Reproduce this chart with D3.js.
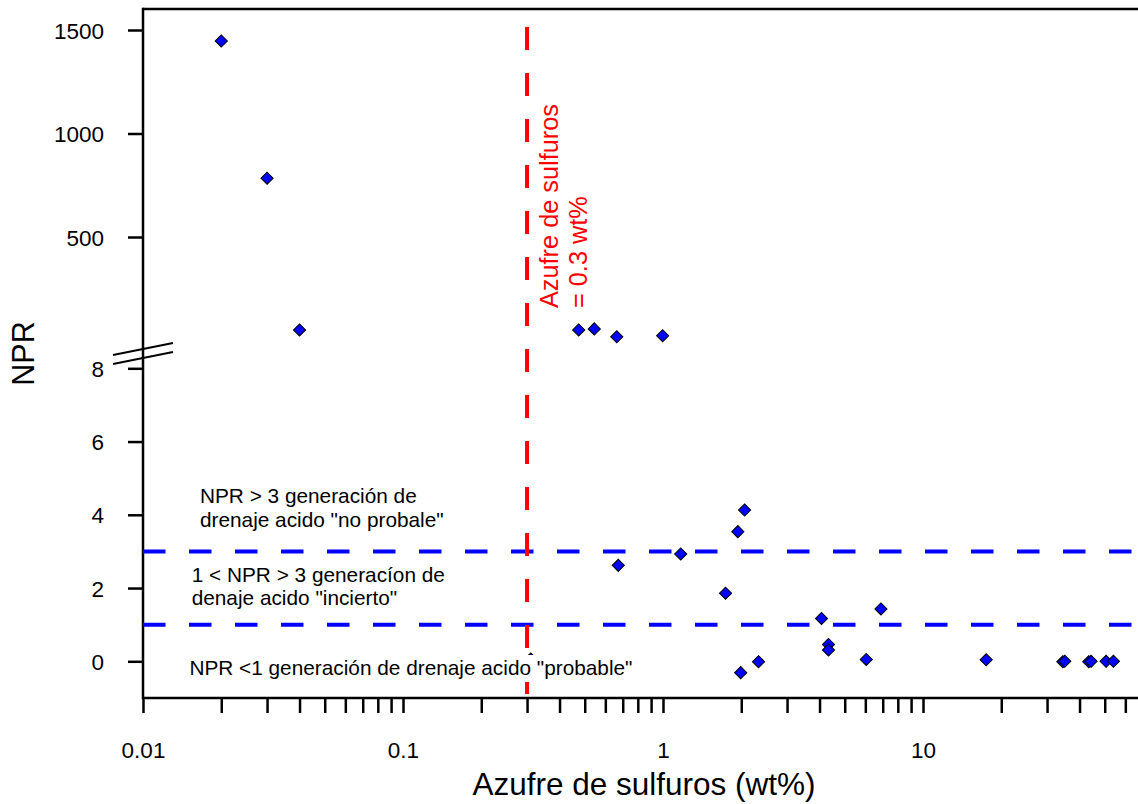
<!DOCTYPE html>
<html><head><meta charset="utf-8">
<script src="https://cdn.jsdelivr.net/npm/d3@7"></script>
<style>body{margin:0;background:#fff}svg{display:block}text{font-family:"Liberation Sans",Arial,sans-serif}</style>
</head><body><svg id="c" width="1138" height="804"></svg>
<script>
// Data
const sulfurLow = [0.31, 0.673, 1.17, 1.94, 2.06, 1.74, 1.99, 2.33, 4.07, 6.89, 4.33, 4.33, 6.05, 17.5, 34.5, 35.1, 43.4, 44.3, 50.6, 54.0];
const nprLow    = [0.06, 2.62, 2.93, 3.54, 4.13, 1.86, -0.31, -0.01, 1.17, 1.43, 0.46, 0.31, 0.05, 0.04, -0.01, 0.0, -0.01, 0.0, 0.0, 0.0];
const sulfurHigh = [0.02, 0.03, 0.04, 0.474, 0.544, 0.664, 0.997];
const nprHigh    = [1447, 784, 51, 51, 56, 18, 23];
const xTickLabels = [0.01, 0.1, 1, 10];
const lowTicks = [0, 2, 4, 6, 8];
const highTicks = [500, 1000, 1500];
const thresholdsNPR = [3, 1];
const thresholdSulfur = 0.3;
const notes = [
  {lines:["NPR > 3 generación de", "drenaje acido \"no probale\""], x:0.01656, y:4.32},
  {lines:["1 < NPR > 3 generacíon de", "denaje acido \"incierto\""], x:0.01539, y:2.17},
  {lines:["NPR <1 generación de drenaje acido \"probable\""], x:0.01508, y:-0.374}
];
const redLabel = ["Azufre de sulfuros", "= 0.3 wt%"];

const svg = d3.select("#c");
const L = 143, T = 9, B = 698;
const x = d3.scaleLog().domain([0.01, 1]).range([L, 663]);
const xMax = 70;
const yLow = d3.scaleLinear().domain([0, 8]).range([661.3, 368.3]);
const yHigh = d3.scaleLinear().domain([0, 1500]).range([340.5, 30]);
const W = x(xMax);

// frame top line
svg.append("line").attr("x1", L).attr("x2", W).attr("y1", T).attr("y2", T)
  .attr("stroke", "#000").attr("stroke-width", 2.5);

// x axis
const minor = [];
for (let e = -2; e <= 1; e++) for (let m = 1; m <= 9; m++) { const v = m * Math.pow(10, e); if (v <= xMax) minor.push(v); }
const xAxis = d3.axisBottom(x).tickValues(minor).tickSize(15).tickPadding(29)
  .tickFormat(d => xTickLabels.includes(+d.toPrecision(3)) ? String(+d.toPrecision(3)) : "");
const gx = svg.append("g").attr("transform", `translate(0,${B})`).call(xAxis);
gx.select(".domain").attr("d", `M${L},0H${W}`).attr("stroke-width", 2.5);
gx.selectAll(".tick line").attr("stroke-width", 2.5);
gx.selectAll(".tick text").attr("font-size", 22.5).attr("fill", "#000");

// y axis (broken)
const gyL = svg.append("g").attr("transform", `translate(${L},0)`)
  .call(d3.axisLeft(yLow).tickValues(lowTicks).tickSize(15).tickPadding(24).tickFormat(d3.format("d")));
gyL.select(".domain").remove();
const gyH = svg.append("g").attr("transform", `translate(${L},0)`)
  .call(d3.axisLeft(yHigh).tickValues(highTicks).tickSize(15).tickPadding(24).tickFormat(d3.format("d")));
gyH.select(".domain").remove();
svg.selectAll(".tick line").attr("stroke-width", 2.5);
[gyL, gyH].forEach(g => g.selectAll(".tick text").attr("font-size", 22.5).attr("fill", "#000").attr("dy", "0.36em"));
svg.append("line").attr("x1", L).attr("x2", L).attr("y1", T - 1.2).attr("y2", B + 1.2)
  .attr("stroke", "#000").attr("stroke-width", 2.5);
// break marks
[0, 9].forEach(o => svg.append("line").attr("x1", 113).attr("y1", 355 + o).attr("x2", 173).attr("y2", 343 + o)
  .attr("stroke", "#000").attr("stroke-width", 2));

// threshold lines
thresholdsNPR.forEach(v => svg.append("line").attr("x1", L).attr("x2", W)
  .attr("y1", yLow(v)).attr("y2", yLow(v)).attr("stroke", "#0000ff").attr("stroke-width", 4)
  .attr("stroke-dasharray", "22.5,23.5"));
svg.append("line").attr("x1", x(thresholdSulfur)).attr("x2", x(thresholdSulfur)).attr("y1", T).attr("y2", B)
  .attr("stroke", "#ff0000").attr("stroke-width", 4).attr("stroke-dasharray", "23,23").attr("stroke-dashoffset", 28);

// points
const diamond = d3.symbol(d3.symbolSquare, 74)();
const pts = sulfurLow.map((s, i) => ({x: x(s), y: yLow(nprLow[i])}))
  .concat(sulfurHigh.map((s, i) => ({x: x(s), y: yHigh(nprHigh[i])})));
svg.append("g").selectAll("path").data(pts).join("path").attr("d", diamond)
  .attr("transform", d => `translate(${d.x},${d.y}) rotate(45)`)
  .attr("fill", "#0000ff").attr("stroke", "#000").attr("stroke-width", 1);

// notes
notes.forEach(n => {
  const g = svg.append("g");
  const t = g.append("text").attr("font-size", 20.8).attr("fill", "#000");
  n.lines.forEach((ln, i) => t.append("tspan").attr("x", x(n.x)).attr("y", yLow(n.y) + i * 23.5).text(ln));
  const bb = t.node().getBBox();
  g.insert("rect", "text").attr("x", bb.x - 2).attr("y", bb.y - 1).attr("width", bb.width + 4).attr("height", bb.height + 4).attr("fill", "#fff");
});

// red label
const rl = svg.append("text").attr("transform", `translate(${x(thresholdSulfur)},308) rotate(-90)`)
  .attr("font-size", 25.3).attr("fill", "#ff0000");
redLabel.forEach((ln, i) => rl.append("tspan").attr("x", 0).attr("y", 31 + i * 29).text(ln));

// axis titles
svg.append("text").attr("x", 644).attr("y", 795).attr("text-anchor", "middle").attr("font-size", 31.5).text("Azufre de sulfuros (wt%)");
svg.append("text").attr("transform", "translate(34,353.5) rotate(-90)").attr("text-anchor", "middle").attr("font-size", 30.5).text("NPR");
</script></body></html>
